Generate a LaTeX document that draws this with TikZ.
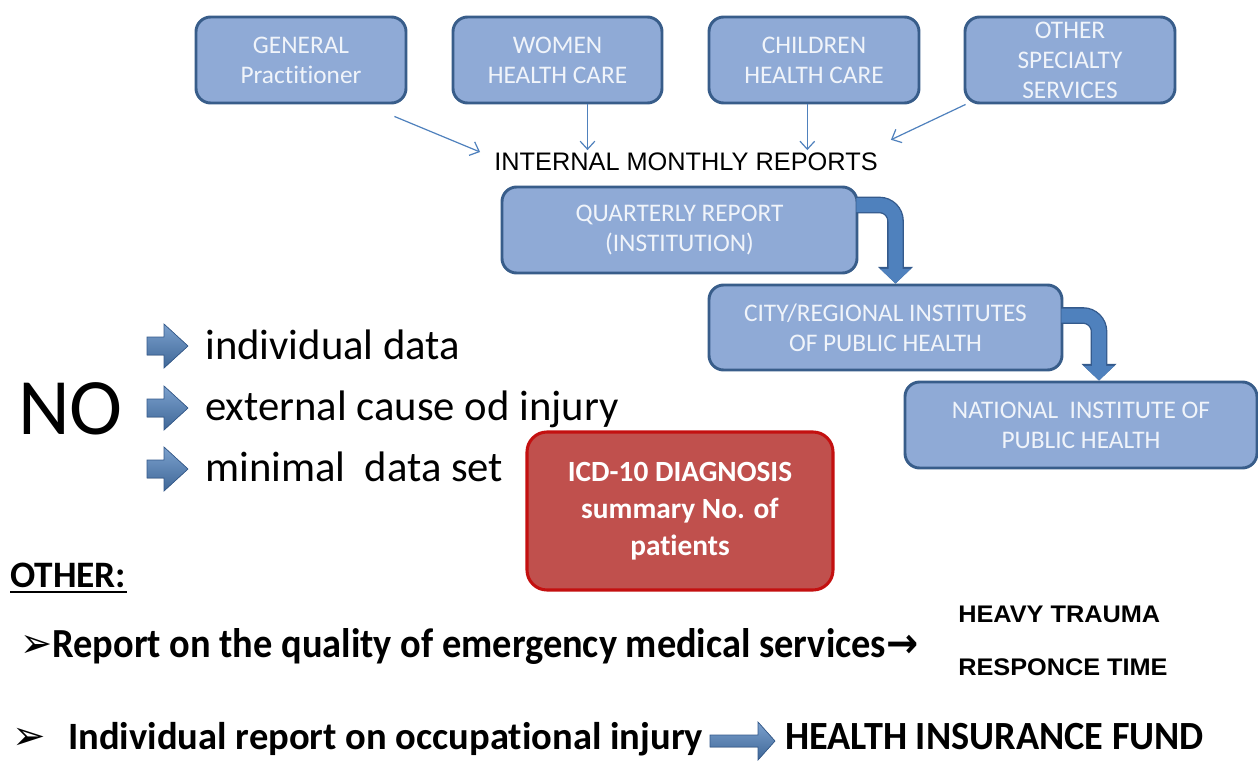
\documentclass[tikz,border=0pt]{standalone}
\usepackage{fontspec}
\usepackage{graphicx}
\setmainfont{Carlito}[Ligatures=NoCommon]
\newfontfamily\arialfam{Liberation Sans}
\newfontfamily\symfam{DejaVu Sans}
\usetikzlibrary{arrows.meta,calc}

\definecolor{boxfill}{RGB}{143,170,214}
\definecolor{boxline}{RGB}{56,93,138}
\definecolor{boxtext}{RGB}{240,244,250}
\definecolor{redfill}{RGB}{192,80,77}
\definecolor{redline}{RGB}{196,16,16}
\definecolor{arrowblue}{RGB}{79,129,189}
\definecolor{arrowedge}{RGB}{52,90,140}

\begin{document}
\begin{tikzpicture}[x=0.75pt,y=-0.75pt,
  bluebox/.style={draw=boxline, line width=2.2pt, fill=boxfill, rounded corners=11pt,
    text=boxtext, align=center, inner sep=0pt,
    font=\fontsize{19}{22.5}\selectfont},
  redbox/.style={draw=redline, line width=2.3pt, fill=redfill, rounded corners=15pt,
    text=white, align=center, inner sep=0pt,
    font=\bfseries\fontsize{22}{27.75}\selectfont},
  plain/.style={inner sep=0pt, anchor=base west},
  thinarrow/.style={draw=arrowblue, line width=0.9pt, -{Straight Barb[length=6pt,width=11pt]}},
  bentarrow/.style={draw=arrowblue, line width=10.5pt, rounded corners=12pt,
    -{Triangle[length=11pt,width=22.5pt]},
    preaction={draw=arrowedge, line width=12.5pt, rounded corners=12pt,
      -{Triangle[length=12.5pt,width=25.5pt]}}},
  listarrow/.pic={
    \filldraw[top color=arrowblue!75!white, bottom color=arrowblue!80!black,
      draw=arrowedge, line width=0.5pt]
      (0,-9) -- (17,-9) -- (17,-22) -- (41,0) -- (17,22) -- (17,9) -- (0,9) -- cycle;},
  widearrow/.pic={
    \filldraw[top color=arrowblue!75!white, bottom color=arrowblue!80!black,
      draw=arrowedge, line width=0.5pt]
      (0,-6) -- (48,-6) -- (48,-19) -- (65,0) -- (48,19) -- (48,6) -- (0,6) -- cycle;}
]
\fill[white] (0,0) rectangle (1258,768);
\useasboundingbox (0,0) rectangle (1258,768);

% departments
\node[bluebox, minimum width=157.5pt, minimum height=64.5pt] (gp) at (301,60) {GENERAL\\Practitioner};
\node[bluebox, minimum width=156.75pt, minimum height=64.5pt] (wh) at (557.5,60) {WOMEN\\HEALTH CARE};
\node[bluebox, minimum width=157.5pt, minimum height=64.5pt] (ch) at (814,60) {CHILDREN\\HEALTH CARE};
\node[bluebox, minimum width=157.5pt, minimum height=64.5pt] (os) at (1070,60) {OTHER\\SPECIALTY\\SERVICES};

\node[inner sep=0pt, font=\arialfam\fontsize{19}{22}\selectfont] (imr) at (686,162) {INTERNAL MONTHLY REPORTS};

\draw[thinarrow] ($(gp.south east)+(-13,12)$) -- ($(imr.west)+(-14,-10)$);
\draw[thinarrow] ([xshift=22.5pt]wh.south) -- ([xshift=22.5pt,yshift=2pt]wh.south |- imr.north);
\draw[thinarrow] ([xshift=-5pt]ch.south) -- ([xshift=-5pt,yshift=2pt]ch.south |- imr.north);
\draw[thinarrow] ($(os.south west)+(2,0)$) -- ($(imr.north east)+(13,-13)$);

% reporting chain
\node[bluebox, minimum width=266.25pt, minimum height=64.5pt] (qr) at (679.5,230) {QUARTERLY REPORT\\(INSTITUTION)};
\node[bluebox, minimum width=264.75pt, minimum height=63.75pt] (cr) at (885.5,327.5) {CITY/REGIONAL INSTITUTES\\OF PUBLIC HEALTH};
\node[bluebox, minimum width=264pt, minimum height=64.5pt] (ni) at (1081,425) {NATIONAL\ \ INSTITUTE OF\\PUBLIC HEALTH};

\draw[bentarrow] ($(qr.east)+(-2,-25)$) -| ($(cr.north)+(10,0)$);
\draw[bentarrow] ($(cr.east)+(-2,-12)$) -| ($(ni.north)+(18,0)$);

% what the reports do not contain
\node[plain, font=\fontsize{60}{60}\selectfont] (no) at (18,434) {NO};
\pic at (147,346) {listarrow};
\pic at (147,408) {listarrow};
\pic at (147,469) {listarrow};
\node[plain, font=\fontsize{32}{32}\selectfont] (i1) at (205,359) {individual data};
\node[plain, font=\fontsize{32}{32}\selectfont] (i2) at (205,420) {external cause od injury};
\node[plain, font=\fontsize{32}{32}\selectfont] (i3) at (205,481) {minimal\ \ data set};

\node[redbox, minimum width=229.5pt, minimum height=118.5pt] (icd) at (680,511) {ICD-10 DIAGNOSIS\\summary No. of\\patients};

% other reports
\node[plain, font=\bfseries\fontsize{28}{28}\selectfont] (oth) at (10,587) {OTHER:};
\draw[line width=1.5pt] ($(oth.base west)+(0,5)$) -- ($(oth.base east)+(0,5)$);

\node[plain] (l1) at (20,657) {\resizebox{673.5pt}{\height}{\bfseries\fontsize{31}{31}\selectfont{\symfam\mdseries ➢}Report on the quality of emergency medical services{\symfam →}}};
\node[plain, font=\arialfam\bfseries\fontsize{18}{18}\selectfont] (ht) at (958,622) {\resizebox{151.5pt}{\height}{HEAVY TRAUMA}};
\node[plain, font=\arialfam\bfseries\fontsize{18}{18}\selectfont] (rt) at (958,675) {\resizebox{157pt}{\height}{RESPONCE TIME}};

\node[plain, font=\symfam\fontsize{30}{30}\selectfont] (b2) at (12,749) {➢};
\node[plain] (l2) at (68,749) {\resizebox{476pt}{\height}{\bfseries\fontsize{29}{29}\selectfont Individual report on occupational injury}};
\pic at (710,741) {widearrow};
\node[plain] (hif) at (785,749) {\resizebox{314pt}{\height}{\bfseries\fontsize{30}{30}\selectfont HEALTH INSURANCE FUND}};
\end{tikzpicture}
\end{document}
